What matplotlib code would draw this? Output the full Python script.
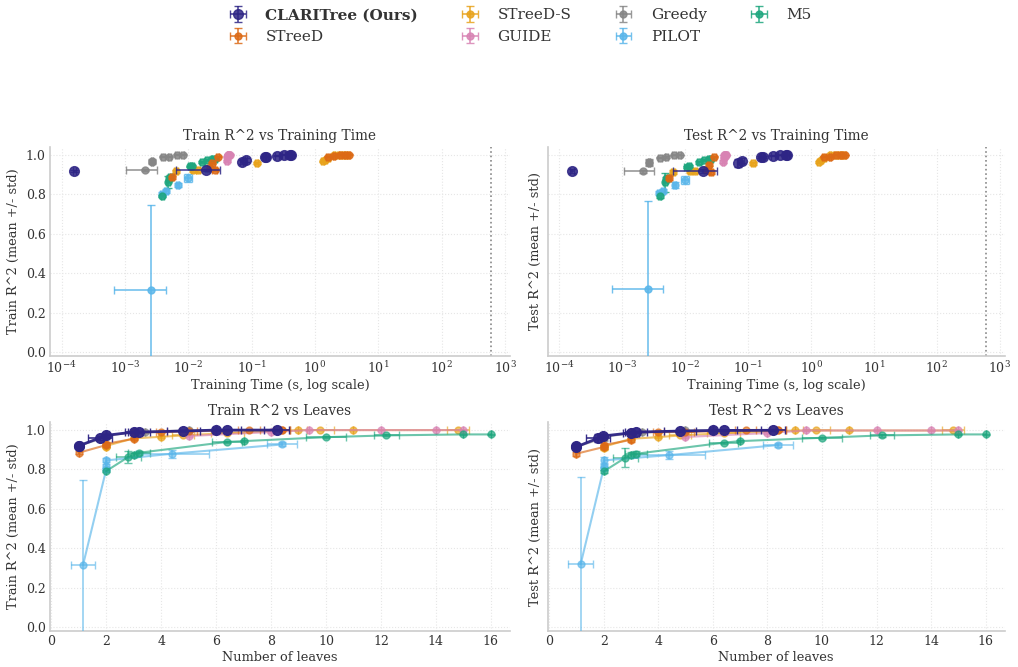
import numpy as np
import matplotlib.pyplot as plt

plt.rcParams['font.family'] = ['DejaVu Serif']
plt.rcParams['mathtext.fontset'] = 'dejavuserif'

TIME_LIMIT = 600

# --- results per method (one entry per configuration) ---
clari_leaves = [1.0, 1.0, 1.78, 1.98, 3.0, 3.2, 4.8, 6.0, 6.4, 8.2]
clari_leaves_std = [0.0, 0.0, 0.44, 0.0, 0.3, 0.4, 0.6, 0.0, 0.5, 0.45]
clari_train = [0.919, 0.92, 0.961, 0.973, 0.99, 0.99, 0.995, 1.0, 1.0, 1.0]
clari_train_std = [0.005, 0.005, 0.01, 0.008, 0.003, 0.003, 0.002, 0.001, 0.001, 0.001]
clari_test = [0.917, 0.915, 0.958, 0.970, 0.986, 0.99, 0.995, 0.998, 0.998, 0.999]
clari_test_std = [0.01, 0.01, 0.02, 0.012, 0.005, 0.005, 0.003, 0.002, 0.002, 0.002]
clari_time = [0.000158, 0.019, 0.070, 0.081, 0.16, 0.17, 0.25, 0.32, 0.40, 0.42]
clari_time_std = [0.00001, 0.0127, 0.004, 0.004, 0.01, 0.01, 0.02, 0.02, 0.02, 0.02]

streed_leaves = [1.0, 2.0, 2.0, 3.0, 3.0, 4.0, 5.0, 7.2, 8.4, 8.4]
streed_leaves_std = [0.0, 0.0, 0.0, 0.0, 0.0, 0.2, 0.3, 0.4, 0.3, 0.3]
streed_train = [0.885, 0.924, 0.93, 0.956, 0.99, 0.99, 0.993, 1.0, 1.0, 1.0]
streed_train_std = [0.008, 0.008, 0.008, 0.005, 0.003, 0.003, 0.002, 0.001, 0.001, 0.001]
streed_test = [0.88, 0.914, 0.924, 0.95, 0.99, 0.99, 0.99, 0.998, 0.998, 0.998]
streed_test_std = [0.01, 0.01, 0.01, 0.008, 0.004, 0.004, 0.003, 0.002, 0.002, 0.002]
streed_time = [0.0056, 0.026, 0.022, 0.024, 0.029, 1.6, 2.0, 2.5, 3.0, 3.4]
streed_time_std = [0.0004, 0.002, 0.002, 0.002, 0.002, 0.1, 0.1, 0.15, 0.15, 0.2]

streeds_leaves = [2.0, 2.0, 2.0, 3.0, 4.0, 4.8, 6.4, 9.0, 9.8, 11.0, 14.8]
streeds_leaves_std = [0.0, 0.0, 0.0, 0.0, 0.0, 0.4, 0.6, 0.0, 0.5, 0.0, 0.4]
streeds_train = [0.915, 0.92, 0.92, 0.958, 0.966, 0.973, 0.985, 1.0, 1.0, 1.0, 1.0]
streeds_train_std = [0.008, 0.008, 0.008, 0.005, 0.004, 0.004, 0.003, 0.001, 0.001, 0.001, 0.001]
streeds_test = [0.91, 0.915, 0.915, 0.956, 0.964, 0.973, 0.984, 0.998, 0.998, 0.998, 0.998]
streeds_test_std = [0.01, 0.01, 0.01, 0.006, 0.005, 0.005, 0.004, 0.002, 0.002, 0.002, 0.002]
streeds_time = [0.0064, 0.012, 0.0144, 0.12, 1.32, 1.45, 1.6, 2.0, 2.4, 2.8, 3.2]
streeds_time_std = [0.0005, 0.001, 0.001, 0.008, 0.08, 0.08, 0.1, 0.1, 0.15, 0.15, 0.2]

guide_leaves = [5.0, 8.0, 9.4, 12.0, 14.0, 15.0]
guide_leaves_std = [0.0, 0.0, 0.0, 0.0, 0.0, 0.0]
guide_train = [0.97, 0.99, 1.0, 1.0, 1.0, 1.0]
guide_train_std = [0.005, 0.003, 0.001, 0.001, 0.001, 0.001]
guide_test = [0.965, 0.985, 0.998, 0.998, 0.998, 0.998]
guide_test_std = [0.006, 0.004, 0.002, 0.002, 0.002, 0.002]
guide_time = [0.040, 0.041, 0.042, 0.043, 0.044, 0.045]
guide_time_std = [0.002, 0.002, 0.002, 0.002, 0.002, 0.002]

greedy_leaves = [1.0, 2.0, 2.0, 3.0, 3.4, 5.0, 6.0]
greedy_leaves_std = [0.0, 0.0, 0.0, 0.0, 0.0, 0.0, 0.0]
greedy_train = [0.92, 0.965, 0.97, 0.99, 0.99, 1.0, 1.0]
greedy_train_std = [0.005, 0.01, 0.01, 0.003, 0.003, 0.001, 0.001]
greedy_test = [0.915, 0.96, 0.965, 0.985, 0.988, 0.998, 0.998]
greedy_test_std = [0.006, 0.015, 0.015, 0.004, 0.004, 0.002, 0.002]
greedy_time = [0.0021, 0.00264, 0.00266, 0.0040, 0.0050, 0.0066, 0.0081]
greedy_time_std = [0.00105, 0.0001, 0.0001, 0.0003, 0.0003, 0.0004, 0.0005]

pilot_leaves = [1.16, 2.0, 2.0, 2.0, 4.4, 8.4]
pilot_leaves_std = [0.45, 0.0, 0.0, 0.0, 1.33, 0.55]
pilot_train = [0.317, 0.80, 0.817, 0.846, 0.88, 0.927]
pilot_train_std = [0.43, 0.01, 0.01, 0.01, 0.02, 0.01]
pilot_test = [0.32, 0.805, 0.817, 0.846, 0.873, 0.924]
pilot_test_std = [0.443, 0.01, 0.01, 0.015, 0.02, 0.01]
pilot_time = [0.00258, 0.0038, 0.0044, 0.0068, 0.0100, 0.020]
pilot_time_std = [0.0019, 0.0003, 0.0003, 0.0004, 0.0015, 0.002]

m5_leaves = [2.0, 2.8, 3.0, 3.2, 6.4, 7.0, 10.0, 12.2, 15.0, 16.0]
m5_leaves_std = [0.0, 0.45, 0.0, 0.4, 0.54, 0.0, 0.72, 0.45, 0.0, 0.0]
m5_train = [0.792, 0.863, 0.875, 0.885, 0.94, 0.944, 0.964, 0.973, 0.978, 0.978]
m5_train_std = [0.005, 0.03, 0.01, 0.01, 0.005, 0.005, 0.005, 0.005, 0.003, 0.003]
m5_test = [0.79, 0.86, 0.875, 0.88, 0.936, 0.944, 0.961, 0.973, 0.978, 0.978]
m5_test_std = [0.008, 0.048, 0.012, 0.012, 0.006, 0.006, 0.006, 0.006, 0.004, 0.004]
m5_time = [0.0039, 0.0048, 0.0050, 0.0052, 0.0105, 0.0115, 0.0165, 0.020, 0.024, 0.026]
m5_time_std = [0.0002, 0.0004, 0.0004, 0.0004, 0.0008, 0.0008, 0.001, 0.0015, 0.0015, 0.002]

# name, colour, draw order, then the data
methods = [
    ('CLARITree (Ours)', '#2e2585', 6, clari_leaves, clari_leaves_std, clari_train, clari_train_std,
     clari_test, clari_test_std, clari_time, clari_time_std),
    ('STreeD', '#dc6a16', 4, streed_leaves, streed_leaves_std, streed_train, streed_train_std,
     streed_test, streed_test_std, streed_time, streed_time_std),
    ('STreeD-S', '#e8a31c', 3, streeds_leaves, streeds_leaves_std, streeds_train, streeds_train_std,
     streeds_test, streeds_test_std, streeds_time, streeds_time_std),
    ('GUIDE', '#d883b3', 3, guide_leaves, guide_leaves_std, guide_train, guide_train_std,
     guide_test, guide_test_std, guide_time, guide_time_std),
    ('Greedy', '#868686', 3, greedy_leaves, greedy_leaves_std, greedy_train, greedy_train_std,
     greedy_test, greedy_test_std, greedy_time, greedy_time_std),
    ('PILOT', '#5ab6ea', 3, pilot_leaves, pilot_leaves_std, pilot_train, pilot_train_std,
     pilot_test, pilot_test_std, pilot_time, pilot_time_std),
    ('M5', '#1ea67e', 3, m5_leaves, m5_leaves_std, m5_train, m5_train_std,
     m5_test, m5_test_std, m5_time, m5_time_std),
]

fig = plt.figure(figsize=(10.18, 6.67), dpi=100)
ax_tt = fig.add_axes([0.049, 0.466, 0.452, 0.314])
ax_te = fig.add_axes([0.538, 0.466, 0.449, 0.314], sharey=ax_tt)
ax_lt = fig.add_axes([0.049, 0.054, 0.452, 0.313], sharey=ax_tt)
ax_le = fig.add_axes([0.538, 0.054, 0.449, 0.313], sharey=ax_tt)

handles = []
for name, col, z, leaves, leaves_std, train, train_std, test, test_std, t, t_std in methods:
    ours = name.startswith('CLARITree')
    ms = 7 if ours else 5
    # time panels: points only
    for ax, y, yerr in [(ax_tt, train, train_std), (ax_te, test, test_std)]:
        h = ax.errorbar(t, y, xerr=t_std, yerr=yerr, fmt='o', color=col, ms=ms,
                        elinewidth=1.2, capsize=3, alpha=0.85, zorder=z)
    handles.append(h)
    # leaves panels: sorted by leaves and joined with a line
    order = np.argsort(leaves, kind='stable')
    lv = np.array(leaves)[order]
    lvs = np.array(leaves_std)[order]
    for ax, y, yerr in [(ax_lt, train, train_std), (ax_le, test, test_std)]:
        ax.errorbar(lv, np.array(y)[order], xerr=lvs, yerr=np.array(yerr)[order],
                    fmt='o-', color=col, ms=ms, lw=2 if ours else 1.5,
                    elinewidth=1.2, capsize=3, alpha=0.95 if ours else 0.65, zorder=z)

for ax in (ax_tt, ax_te):
    ax.set_xscale('log')
    ax.set_xlim(6.5e-5, 1.2e3)
    ax.axvline(TIME_LIMIT, color='#888888', ls=':', lw=1.2)
    ax.set_xlabel('Training Time (s, log scale)', fontsize=9.3, labelpad=2)
    ax.set_xticks([1e-4, 1e-3, 1e-2, 1e-1, 1, 10, 100, 1000])
    ax.minorticks_off()
for ax in (ax_lt, ax_le):
    ax.set_xlim(-0.05, 16.7)
    ax.set_xticks(range(0, 17, 2))
    ax.set_xlabel('Number of leaves', fontsize=9.3, labelpad=2)

ax_tt.set_ylim(-0.02, 1.04)
ax_tt.set_yticks([0.0, 0.2, 0.4, 0.6, 0.8, 1.0])

ax_tt.set_title('Train R^2 vs Training Time', fontsize=9.8, pad=5)
ax_te.set_title('Test R^2 vs Training Time', fontsize=9.8, pad=5)
ax_lt.set_title('Train R^2 vs Leaves', fontsize=9.8, pad=5)
ax_le.set_title('Test R^2 vs Leaves', fontsize=9.8, pad=5)
ax_tt.set_ylabel('Train R^2 (mean +/- std)', fontsize=9.3)
ax_lt.set_ylabel('Train R^2 (mean +/- std)', fontsize=9.3)
ax_te.set_ylabel('Test R^2 (mean +/- std)', fontsize=9.3)
ax_le.set_ylabel('Test R^2 (mean +/- std)', fontsize=9.3)

for ax in (ax_tt, ax_te, ax_lt, ax_le):
    ax.grid(True, ls=':', color='#e6e6e6', lw=0.8)
    ax.set_axisbelow(True)
    for s in ('top', 'right'):
        ax.spines[s].set_visible(False)
    for s in ('left', 'bottom'):
        ax.spines[s].set_color('#cccccc')
        ax.spines[s].set_linewidth(1.2)
    ax.tick_params(colors='#cccccc', labelcolor='#333333', labelsize=9, length=0, pad=3)
    ax.xaxis.label.set_color('#333333')
    ax.yaxis.label.set_color('#333333')
    ax.title.set_color('#333333')
for ax in (ax_te, ax_le):
    ax.tick_params(labelleft=False)

leg = fig.legend(handles, [m[0] for m in methods], loc='upper center', ncol=4,
                 bbox_to_anchor=(0.508, 1.008), frameon=False, fontsize=11,
                 columnspacing=2.4, handletextpad=0.8, labelspacing=0.5)
leg.get_texts()[0].set_fontweight('bold')
for txt in leg.get_texts():
    txt.set_color('#333333')

fig.savefig('out.png', dpi=100)
